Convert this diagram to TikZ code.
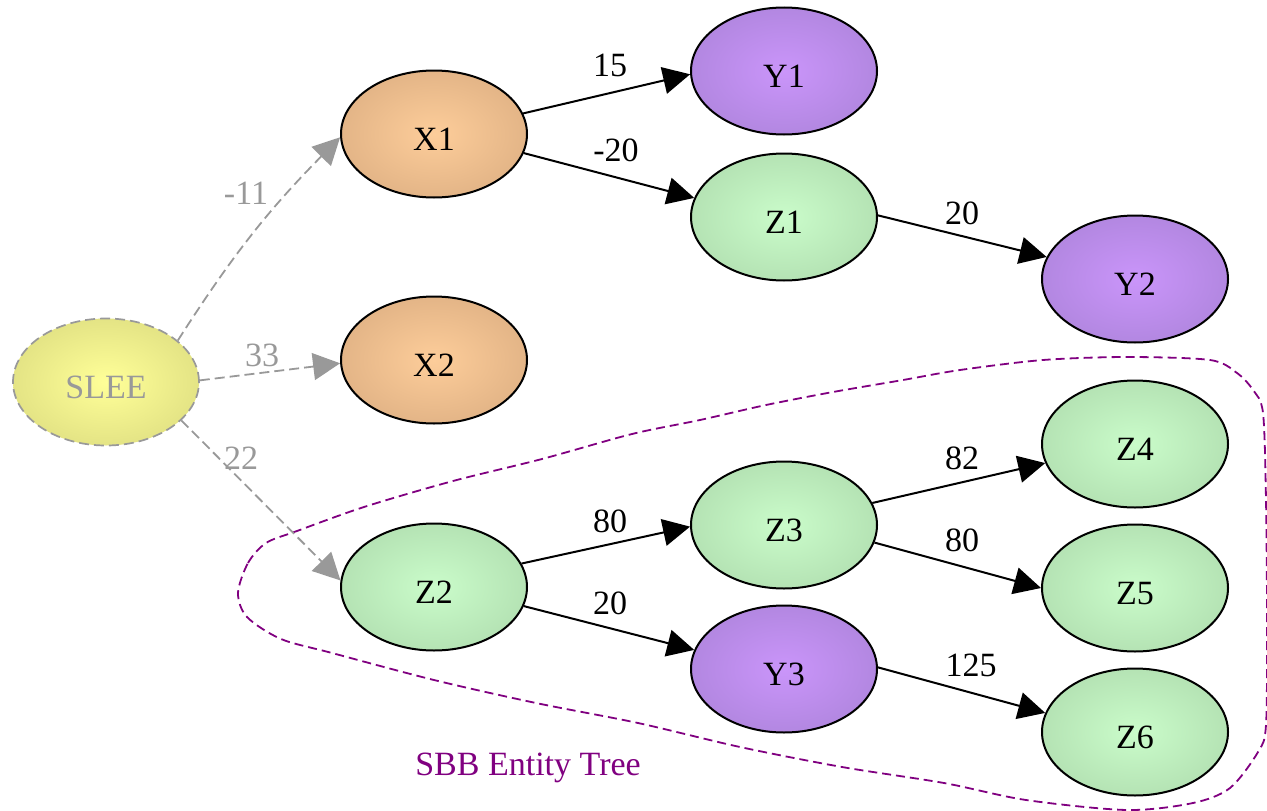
\documentclass[tikz,border=0pt]{standalone}
\usepackage{fontspec}
\setmainfont{Liberation Serif}
\usetikzlibrary{arrows.meta,shapes.geometric}

% node fill colours (centre / rim)
\definecolor{xin}{HTML}{FDCD9A}
\definecolor{xout}{HTML}{DAAC80}
\definecolor{yin}{HTML}{CA95FA}
\definecolor{yout}{HTML}{AA82D8}
\definecolor{zin}{HTML}{CAFCCA}
\definecolor{zout}{HTML}{ADDAAC}
\definecolor{sin}{HTML}{FFFF98}
\definecolor{sout}{HTML}{DADA7E}
\definecolor{edgegray}{HTML}{999999}
\definecolor{clusterpurple}{HTML}{800080}

\pgfdeclareradialshading{xshade}{\pgfpoint{0bp}{0bp}}{color(0bp)=(xin); color(34bp)=(xout); color(50bp)=(xout)}
\pgfdeclareradialshading{yshade}{\pgfpoint{0bp}{0bp}}{color(0bp)=(yin); color(34bp)=(yout); color(50bp)=(yout)}
\pgfdeclareradialshading{zshade}{\pgfpoint{0bp}{0bp}}{color(0bp)=(zin); color(34bp)=(zout); color(50bp)=(zout)}
\pgfdeclareradialshading{sshade}{\pgfpoint{0bp}{0bp}}{color(0bp)=(sin); color(34bp)=(sout); color(50bp)=(sout)}

\tikzset{
  ent/.style={ellipse, minimum width=186pt, minimum height=127pt, inner sep=0pt,
              text height=33pt, draw=black, line width=2pt,
              font=\fontsize{34}{40}\selectfont},
  xnode/.style={ent, shading=xshade},
  ynode/.style={ent, shading=yshade},
  znode/.style={ent, shading=zshade},
  snode/.style={ent, shading=sshade, draw=edgegray, dash pattern=on 10pt off 5pt,
                line width=1.7pt, text=edgegray},
  lbl/.style={inner sep=0pt, font=\fontsize{34}{40}\selectfont},
  glbl/.style={lbl, text=edgegray},
  edge/.style={draw=black, line width=2pt, -{Triangle[length=27pt,width=27pt]}},
  gedge/.style={draw=edgegray, line width=1.8pt, dash pattern=on 10pt off 5pt,
                -{Triangle[length=27pt,width=27pt,fill=edgegray]}},
  cluster/.style={draw=clusterpurple, line width=1.8pt, dash pattern=on 9pt off 5pt}
}

\begin{document}
\begin{tikzpicture}[x=1pt, y=-1pt]
\useasboundingbox (0,0) rectangle (1267,811);

% SBB entity tree boundary
\draw[cluster] plot[smooth cycle, tension=0.5] coordinates {
  (238,593) (248,563) (266,543) (297,531) (364,507) (453,481) (542,459)
  (632,434) (700,420) (766,405) (833,392) (903,380) (960,370) (1043,360)
  (1127,357) (1210,360) (1237,373) (1253,390) (1263,413) (1266,500)
  (1267,620) (1266,725) (1258,752) (1230,788) (1193,803) (1127,810)
  (1026,800) (944,783) (842,767) (740,747) (638,723) (536,703) (434,680)
  (332,653) (281,639) (247,617)};
\node[lbl, text=clusterpurple] (title) at (528,768) {SBB Entity Tree};

% entities
\node[snode] (SLEE) at (106,382) {SLEE};
\node[xnode] (X1) at (434,134) {X1};
\node[xnode] (X2) at (434,360) {X2};
\node[ynode] (Y1) at (784,71) {Y1};
\node[znode] (Z1) at (784,217) {Z1};
\node[ynode] (Y2) at (1135,279) {Y2};
\node[znode] (Z2) at (434,587) {Z2};
\node[znode] (Z3) at (784,525) {Z3};
\node[ynode] (Y3) at (784,669) {Y3};
\node[znode] (Z4) at (1135,444) {Z4};
\node[znode] (Z5) at (1135,588) {Z5};
\node[znode] (Z6) at (1135,732) {Z6};

% links from SLEE
\draw[gedge] (SLEE.30) to[bend left=6] (X1.182);
\draw[gedge] (SLEE.1) -- (X2.182);
\draw[gedge] (SLEE.-27) -- (Z2.176);
\node[glbl] (w11) at (246,193) {-11};
\node[glbl] (w33) at (262,355) {33};
\node[glbl] (w22) at (241,458) {22};

% weighted links
\draw[edge] (X1.13) -- (Y1.182);
\draw[edge] (X1.-12) -- (Z1.168);
\draw[edge] (Z1.1) -- (Y2.166);
\draw[edge] (Z2.15) -- (Z3.181);
\draw[edge] (Z2.-12) -- (Y3.168);
\draw[edge] (Z3.14) -- (Z4.192);
\draw[edge] (Z3.-11) -- (Z5.180);
\draw[edge] (Y3.1) -- (Z6.168);

\node[lbl] (w15) at (610,65) {15};
\node[lbl] (w20a) at (616,150) {-20};
\node[lbl] (w20b) at (962,213) {20};
\node[lbl] (w80a) at (610,521) {80};
\node[lbl] (w20c) at (610,603) {20};
\node[lbl] (w82) at (962,458) {82};
\node[lbl] (w80b) at (962,540) {80};
\node[lbl] (w125) at (971,665) {125};
\end{tikzpicture}
\end{document}
